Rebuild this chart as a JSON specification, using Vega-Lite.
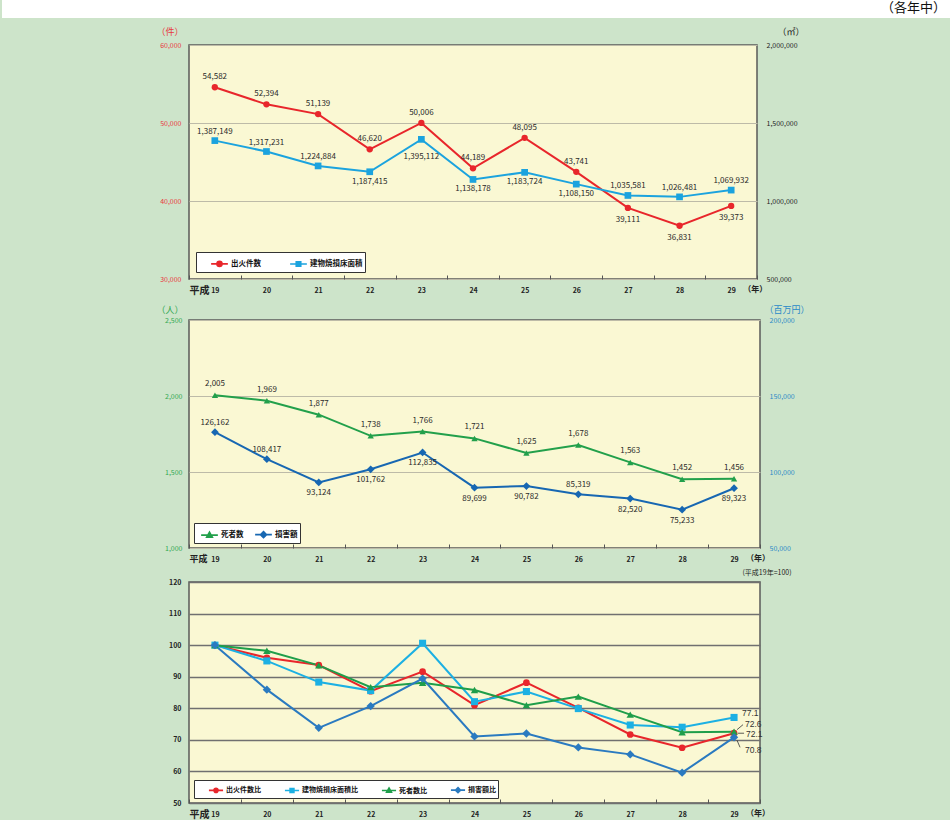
{
  "$schema": "https://vega.github.io/schema/vega-lite/v6.json",
  "padding": 0,
  "spacing": 8,
  "datasets": {
    "p1": [
      {"year": 19, "series": "出火件数", "value": 54582},
      {"year": 20, "series": "出火件数", "value": 52394},
      {"year": 21, "series": "出火件数", "value": 51139},
      {"year": 22, "series": "出火件数", "value": 46620},
      {"year": 23, "series": "出火件数", "value": 50006},
      {"year": 24, "series": "出火件数", "value": 44189},
      {"year": 25, "series": "出火件数", "value": 48095},
      {"year": 26, "series": "出火件数", "value": 43741},
      {"year": 27, "series": "出火件数", "value": 39111},
      {"year": 28, "series": "出火件数", "value": 36831},
      {"year": 29, "series": "出火件数", "value": 39373},
      {"year": 19, "series": "建物焼損床面積", "value": 1387149},
      {"year": 20, "series": "建物焼損床面積", "value": 1317231},
      {"year": 21, "series": "建物焼損床面積", "value": 1224884},
      {"year": 22, "series": "建物焼損床面積", "value": 1187415},
      {"year": 23, "series": "建物焼損床面積", "value": 1395112},
      {"year": 24, "series": "建物焼損床面積", "value": 1138178},
      {"year": 25, "series": "建物焼損床面積", "value": 1183724},
      {"year": 26, "series": "建物焼損床面積", "value": 1108150},
      {"year": 27, "series": "建物焼損床面積", "value": 1035581},
      {"year": 28, "series": "建物焼損床面積", "value": 1026481},
      {"year": 29, "series": "建物焼損床面積", "value": 1069932}
    ],
    "p2": [
      {"year": 19, "series": "死者数", "value": 2005},
      {"year": 20, "series": "死者数", "value": 1969},
      {"year": 21, "series": "死者数", "value": 1877},
      {"year": 22, "series": "死者数", "value": 1738},
      {"year": 23, "series": "死者数", "value": 1766},
      {"year": 24, "series": "死者数", "value": 1721},
      {"year": 25, "series": "死者数", "value": 1625},
      {"year": 26, "series": "死者数", "value": 1678},
      {"year": 27, "series": "死者数", "value": 1563},
      {"year": 28, "series": "死者数", "value": 1452},
      {"year": 29, "series": "死者数", "value": 1456},
      {"year": 19, "series": "損害額", "value": 126162},
      {"year": 20, "series": "損害額", "value": 108417},
      {"year": 21, "series": "損害額", "value": 93124},
      {"year": 22, "series": "損害額", "value": 101762},
      {"year": 23, "series": "損害額", "value": 112835},
      {"year": 24, "series": "損害額", "value": 89699},
      {"year": 25, "series": "損害額", "value": 90782},
      {"year": 26, "series": "損害額", "value": 85319},
      {"year": 27, "series": "損害額", "value": 82520},
      {"year": 28, "series": "損害額", "value": 75233},
      {"year": 29, "series": "損害額", "value": 89323}
    ],
    "p3": [
      {"year": 19, "series": "出火件数比", "value": 100},
      {"year": 20, "series": "出火件数比", "value": 96.0},
      {"year": 21, "series": "出火件数比", "value": 93.7},
      {"year": 22, "series": "出火件数比", "value": 85.4},
      {"year": 23, "series": "出火件数比", "value": 91.6},
      {"year": 24, "series": "出火件数比", "value": 81.0},
      {"year": 25, "series": "出火件数比", "value": 88.1},
      {"year": 26, "series": "出火件数比", "value": 80.1},
      {"year": 27, "series": "出火件数比", "value": 71.7},
      {"year": 28, "series": "出火件数比", "value": 67.5},
      {"year": 29, "series": "出火件数比", "value": 72.1},
      {"year": 19, "series": "建物焼損床面積比", "value": 100},
      {"year": 20, "series": "建物焼損床面積比", "value": 95.0},
      {"year": 21, "series": "建物焼損床面積比", "value": 88.3},
      {"year": 22, "series": "建物焼損床面積比", "value": 85.6},
      {"year": 23, "series": "建物焼損床面積比", "value": 100.6},
      {"year": 24, "series": "建物焼損床面積比", "value": 82.1},
      {"year": 25, "series": "建物焼損床面積比", "value": 85.3},
      {"year": 26, "series": "建物焼損床面積比", "value": 79.9},
      {"year": 27, "series": "建物焼損床面積比", "value": 74.7},
      {"year": 28, "series": "建物焼損床面積比", "value": 74.0},
      {"year": 29, "series": "建物焼損床面積比", "value": 77.1},
      {"year": 19, "series": "死者数比", "value": 100},
      {"year": 20, "series": "死者数比", "value": 98.2},
      {"year": 21, "series": "死者数比", "value": 93.6},
      {"year": 22, "series": "死者数比", "value": 86.7},
      {"year": 23, "series": "死者数比", "value": 88.1},
      {"year": 24, "series": "死者数比", "value": 85.8},
      {"year": 25, "series": "死者数比", "value": 81.0},
      {"year": 26, "series": "死者数比", "value": 83.7},
      {"year": 27, "series": "死者数比", "value": 78.0},
      {"year": 28, "series": "死者数比", "value": 72.4},
      {"year": 29, "series": "死者数比", "value": 72.6},
      {"year": 19, "series": "損害額比", "value": 100},
      {"year": 20, "series": "損害額比", "value": 85.9},
      {"year": 21, "series": "損害額比", "value": 73.8},
      {"year": 22, "series": "損害額比", "value": 80.7},
      {"year": 23, "series": "損害額比", "value": 89.4},
      {"year": 24, "series": "損害額比", "value": 71.1},
      {"year": 25, "series": "損害額比", "value": 72.0},
      {"year": 26, "series": "損害額比", "value": 67.6},
      {"year": 27, "series": "損害額比", "value": 65.4},
      {"year": 28, "series": "損害額比", "value": 59.6},
      {"year": 29, "series": "損害額比", "value": 70.8}
    ],
    "yearlabel": [{"year": 29, "t": "（年）"}]
  },
  "config": {
    "background": "#cde4ca",
    "view": {"fill": "#faf8d3", "stroke": "#5a5a5a", "strokeWidth": 1.5},
    "font": "Noto Sans CJK JP",
    "axis": {"labelFont": "Noto Sans CJK JP", "titleFont": "Noto Sans CJK JP"},
    "legend": {"labelFont": "Noto Sans CJK JP"},
    "text": {"font": "Noto Sans CJK JP"},
    "title": {"font": "Noto Sans CJK JP"}
  },
  "resolve": {"scale": {"stroke": "independent"}},
  "vconcat": [
    {
      "width": 762, "height": 18,
      "view": {"fill": "#ffffff", "stroke": null},
      "data": {"values": [{"t": "（各年中）"}]},
      "mark": {"type": "text", "align": "right", "baseline": "middle", "dx": -5, "dy": -1, "fontSize": 13, "color": "#111111"},
      "encoding": {
        "x": {"value": "width"},
        "y": {"datum": 9, "type": "quantitative", "scale": {"domain": [0, 18]},
          "axis": {"values": [1, 2, 3, 4, 5, 6, 7, 8, 9, 10, 11, 12, 13, 14, 15, 16, 17], "translate": 0, "tickSize": 187, "tickWidth": 2, "tickColor": "#ffffff", "tickCap": "butt", "labels": false, "domain": false, "grid": false, "title": null, "minExtent": 188, "maxExtent": 188}},
        "text": {"field": "t"}
      }
    },
    {
      "spacing": 2,
      "resolve": {"scale": {"stroke": "independent"}},
      "vconcat": [
        {
          "width": 568, "height": 234,
          "data": {"name": "p1"},
          "encoding": {
            "x": {"field": "year", "type": "ordinal", "bandPosition": 0.5,
              "scale": {"type": "band", "paddingInner": 0, "paddingOuter": 0},
              "axis": {"title": "平成", "titleX": 0, "titleY": 11, "titleAlign": "left", "titleBaseline": "middle", "titleAngle": 0, "titleFontSize": 10, "titleFontWeight": "bold", "titleColor": "#222222",
                "labelAngle": 0, "labelFontSize": 7, "labelFontWeight": "bold", "labelColor": "#222222", "labelPadding": 15, "labelBaseline": "middle",
                "tickBand": "extent", "tickSize": -4, "tickColor": "#555555", "domain": false, "grid": false, "minExtent": 22, "maxExtent": 22}}
          },
          "layer": [
            {
              "transform": [{"filter": "datum.series === '出火件数'"}],
              "encoding": {"y": {"field": "value", "type": "quantitative", "scale": {"domain": [30000, 60000], "nice": false, "zero": false},
                "axis": {"orient": "left", "values": [30000, 40000, 50000, 60000], "format": ",.0f", "labelColor": "#e8383d", "labelFontSize": 7, "labelPadding": 8, "ticks": false, "domain": false,
                  "grid": true, "gridColor": "#bdbba8", "gridWidth": 1,
                  "title": "（件）", "titleAngle": 0, "titleX": -6, "titleY": -14, "titleAlign": "right", "titleBaseline": "middle", "titleColor": "#e8383d", "titleFontSize": 9, "titleFontWeight": "normal",
                  "minExtent": 188, "maxExtent": 188}}},
              "layer": [
                {"mark": {"type": "line", "strokeWidth": 2},
                 "encoding": {"stroke": {"field": "series", "type": "nominal",
                   "scale": {"domain": ["出火件数", "建物焼損床面積"], "range": ["#e8262b", "#1ba3de"]},
                   "legend": {"orient": "bottom-left", "offset": 7, "direction": "horizontal", "title": null,
                     "fillColor": "#ffffff", "strokeColor": "#333333", "padding": 2, "symbolOffset": 12, "columnPadding": 16, "labelOffset": 2,
                     "symbolSize": 280, "symbolStrokeWidth": 1.6, "labelFontSize": 7.5, "labelFontWeight": "bold", "labelColor": "#111111",
                     "encode": {"symbols": {"update": {
                       "shape": {"signal": "datum.value === '出火件数' ? 'M-1,0H1M0.3,0A0.3,0.3,0,1,1,-0.3,0A0.3,0.3,0,1,1,0.3,0Z' : 'M-1,0H1M-0.27,-0.27H0.27V0.27H-0.27Z'"},
                       "fill": {"signal": "datum.value === '出火件数' ? '#e8262b' : '#1ba3de'"}}}}}}}},
                {"mark": {"type": "point", "shape": "circle", "filled": true, "size": 40, "color": "#e8262b", "opacity": 1}},
                {"transform": [{"filter": "datum.year < 27"}],
                 "mark": {"type": "text", "dy": -10, "fontSize": 8, "color": "#2a2a2a"},
                 "encoding": {"text": {"field": "value", "type": "quantitative", "format": ","}}},
                {"transform": [{"filter": "datum.year >= 27"}],
                 "mark": {"type": "text", "dy": 12, "fontSize": 8, "color": "#2a2a2a"},
                 "encoding": {"text": {"field": "value", "type": "quantitative", "format": ","}}}
              ]
            },
            {
              "transform": [{"filter": "datum.series === '建物焼損床面積'"}],
              "encoding": {"y": {"field": "value", "type": "quantitative", "scale": {"domain": [500000, 2000000], "nice": false, "zero": false},
                "axis": {"orient": "right", "values": [500000, 1000000, 1500000, 2000000], "format": ",.0f", "labelColor": "#222222", "labelFontSize": 7, "labelPadding": 9, "ticks": false, "domain": false, "grid": false,
                  "title": "（㎡）", "titleAngle": 0, "titleX": 20, "titleY": -14, "titleAlign": "left", "titleBaseline": "middle", "titleColor": "#222222", "titleFontSize": 9, "titleFontWeight": "normal"}}},
              "layer": [
                {"mark": {"type": "line", "strokeWidth": 2},
                 "encoding": {"stroke": {"field": "series", "type": "nominal",
                   "scale": {"domain": ["出火件数", "建物焼損床面積"], "range": ["#e8262b", "#1ba3de"]}}}},
                {"mark": {"type": "point", "shape": "square", "filled": true, "size": 45, "color": "#1ba3de", "opacity": 1}},
                {"transform": [{"filter": "datum.year <= 21 || datum.year >= 27"}],
                 "mark": {"type": "text", "dy": -9, "fontSize": 8, "color": "#2a2a2a"},
                 "encoding": {"text": {"field": "value", "type": "quantitative", "format": ","}}},
                {"transform": [{"filter": "datum.year > 21 && datum.year < 27 && datum.year != 23"}],
                 "mark": {"type": "text", "dy": 10, "fontSize": 8, "color": "#2a2a2a"},
                 "encoding": {"text": {"field": "value", "type": "quantitative", "format": ","}}},
                {"transform": [{"filter": "datum.year == 23"}],
                 "mark": {"type": "text", "dy": 18, "fontSize": 8, "color": "#2a2a2a"},
                 "encoding": {"text": {"field": "value", "type": "quantitative", "format": ","}}}
              ]
            },
            {
              "data": {"name": "yearlabel"},
              "mark": {"type": "text", "dx": 24, "dy": 11, "baseline": "middle", "fontSize": 8, "fontWeight": "bold", "color": "#222222"},
              "encoding": {"y": {"value": "height"}, "text": {"field": "t"}}
            }
          ],
          "resolve": {"scale": {"y": "independent"}}
        },
        {
          "width": 571, "height": 228,
          "data": {"name": "p2"},
          "encoding": {
            "x": {"field": "year", "type": "ordinal", "bandPosition": 0.5,
              "scale": {"type": "band", "paddingInner": 0, "paddingOuter": 0},
              "axis": {"title": "平成", "titleX": 0, "titleY": 10.5, "titleAlign": "left", "titleBaseline": "middle", "titleAngle": 0, "titleFontSize": 9, "titleFontWeight": "bold", "titleColor": "#222222",
                "labelAngle": 0, "labelFontSize": 7, "labelFontWeight": "bold", "labelColor": "#222222", "labelPadding": 15, "labelBaseline": "middle",
                "tickBand": "extent", "tickSize": -4, "tickColor": "#555555", "domain": false, "grid": false, "minExtent": 14, "maxExtent": 14}}
          },
          "layer": [
            {
              "transform": [{"filter": "datum.series === '死者数'"}],
              "encoding": {"y": {"field": "value", "type": "quantitative", "scale": {"domain": [1000, 2500], "nice": false, "zero": false},
                "axis": {"orient": "left", "values": [1000, 1500, 2000, 2500], "format": ",.0f", "labelColor": "#30a852", "labelFontSize": 7, "labelPadding": 7, "ticks": false, "domain": false,
                  "grid": true, "gridColor": "#bdbba8", "gridWidth": 1,
                  "title": "（人）", "titleAngle": 0, "titleX": -6, "titleY": -11, "titleAlign": "right", "titleBaseline": "middle", "titleColor": "#30a852", "titleFontSize": 9, "titleFontWeight": "normal",
                  "minExtent": 188, "maxExtent": 188}}},
              "layer": [
                {"mark": {"type": "line", "strokeWidth": 2},
                 "encoding": {"stroke": {"field": "series", "type": "nominal",
                   "scale": {"domain": ["死者数", "損害額"], "range": ["#22a04b", "#1767b2"]},
                   "legend": {"orient": "bottom-left", "offset": 5, "direction": "horizontal", "title": null,
                     "fillColor": "#ffffff", "strokeColor": "#333333", "padding": 2, "symbolOffset": 4, "columnPadding": 6, "labelOffset": 2,
                     "symbolSize": 280, "symbolStrokeWidth": 1.6, "labelFontSize": 7.5, "labelFontWeight": "bold", "labelColor": "#111111",
                     "encode": {"symbols": {"update": {
                       "shape": {"signal": "datum.value === '死者数' ? 'M-1,0H1M0,-0.36L0.34,0.24L-0.34,0.24Z' : 'M-1,0H1M0,-0.36L0.36,0L0,0.36L-0.36,0Z'"},
                       "fill": {"signal": "datum.value === '死者数' ? '#22a04b' : '#1767b2'"}}}}}}}},
                {"mark": {"type": "point", "shape": "triangle-up", "filled": true, "size": 40, "color": "#22a04b", "opacity": 1}},
                {"mark": {"type": "text", "dy": -11, "fontSize": 8, "color": "#2a2a2a"},
                 "encoding": {"text": {"field": "value", "type": "quantitative", "format": ","}}}
              ]
            },
            {
              "transform": [{"filter": "datum.series === '損害額'"}],
              "encoding": {"y": {"field": "value", "type": "quantitative", "scale": {"domain": [50000, 200000], "nice": false, "zero": false},
                "axis": {"orient": "right", "values": [50000, 100000, 150000, 200000], "format": ",.0f", "labelColor": "#2a8ac8", "labelFontSize": 7, "labelPadding": 9, "ticks": false, "domain": false, "grid": false,
                  "title": "（百万円）", "titleAngle": 0, "titleX": 4, "titleY": -11, "titleAlign": "left", "titleBaseline": "middle", "titleColor": "#2a8ac8", "titleFontSize": 9, "titleFontWeight": "normal"}}},
              "layer": [
                {"mark": {"type": "line", "strokeWidth": 2},
                 "encoding": {"stroke": {"field": "series", "type": "nominal",
                   "scale": {"domain": ["死者数", "損害額"], "range": ["#22a04b", "#1767b2"]}}}},
                {"mark": {"type": "point", "shape": "diamond", "filled": true, "size": 60, "color": "#1767b2", "opacity": 1}},
                {"transform": [{"filter": "datum.year <= 20 || datum.year == 26"}],
                 "mark": {"type": "text", "dy": -9, "fontSize": 8, "color": "#2a2a2a"},
                 "encoding": {"text": {"field": "value", "type": "quantitative", "format": ","}}},
                {"transform": [{"filter": "datum.year > 20 && datum.year != 26"}],
                 "mark": {"type": "text", "dy": 11, "fontSize": 8, "color": "#2a2a2a"},
                 "encoding": {"text": {"field": "value", "type": "quantitative", "format": ","}}}
              ]
            },
            {
              "data": {"name": "yearlabel"},
              "mark": {"type": "text", "dx": 24, "dy": 11, "baseline": "middle", "fontSize": 8, "fontWeight": "bold", "color": "#222222"},
              "encoding": {"y": {"value": "height"}, "text": {"field": "t"}}
            }
          ],
          "resolve": {"scale": {"y": "independent"}}
        },
        {
          "width": 571, "height": 221,
          "data": {"name": "p3"},
          "encoding": {
            "x": {"field": "year", "type": "ordinal", "bandPosition": 0.5,
              "scale": {"type": "band", "paddingInner": 0, "paddingOuter": 0},
              "axis": {"title": "平成", "titleX": 0, "titleY": 11, "titleAlign": "left", "titleBaseline": "middle", "titleAngle": 0, "titleFontSize": 10, "titleFontWeight": "bold", "titleColor": "#222222",
                "labelAngle": 0, "labelFontSize": 7, "labelFontWeight": "bold", "labelColor": "#222222", "labelPadding": 15, "labelBaseline": "middle",
                "tickBand": "extent", "tickSize": -4, "tickColor": "#555555", "domain": false, "grid": false}},
            "y": {"field": "value", "type": "quantitative", "scale": {"domain": [50, 120], "nice": false, "zero": false},
              "axis": {"values": [50, 60, 70, 80, 90, 100, 110, 120], "labelColor": "#222222", "labelFontSize": 7, "labelFontWeight": "bold", "labelPadding": 8, "ticks": false, "domain": false,
                "grid": true, "gridColor": "#707070", "gridWidth": 1.5,
                "title": "(平成19年=100)", "titleAngle": 0, "titleX": 553, "titleY": -10, "titleAlign": "left", "titleBaseline": "middle", "titleColor": "#222222", "titleFontSize": 7, "titleFontWeight": "normal",
                "minExtent": 188, "maxExtent": 188}}
          },
          "layer": [
            {"mark": {"type": "line", "strokeWidth": 2},
             "encoding": {"stroke": {"field": "series", "type": "nominal",
               "scale": {"domain": ["出火件数比", "建物焼損床面積比", "死者数比", "損害額比"], "range": ["#e8262b", "#1cb0e3", "#1f9e4a", "#2a7ac0"]},
               "legend": {"orient": "bottom-left", "offset": 5, "direction": "horizontal", "title": null,
                 "fillColor": "#ffffff", "strokeColor": "#333333", "padding": 2, "symbolOffset": 12, "columnPadding": 11, "labelOffset": 2,
                 "symbolSize": 200, "symbolStrokeWidth": 1.6, "labelFontSize": 7, "labelFontWeight": "bold", "labelColor": "#111111",
                 "encode": {"symbols": {"update": {
                   "shape": {"signal": "datum.value === '出火件数比' ? 'M-1,0H1M0.3,0A0.3,0.3,0,1,1,-0.3,0A0.3,0.3,0,1,1,0.3,0Z' : datum.value === '建物焼損床面積比' ? 'M-1,0H1M-0.27,-0.27H0.27V0.27H-0.27Z' : datum.value === '死者数比' ? 'M-1,0H1M0,-0.36L0.34,0.24L-0.34,0.24Z' : 'M-1,0H1M0,-0.36L0.36,0L0,0.36L-0.36,0Z'"},
                   "fill": {"signal": "datum.value === '出火件数比' ? '#e8262b' : datum.value === '建物焼損床面積比' ? '#1cb0e3' : datum.value === '死者数比' ? '#1f9e4a' : '#2a7ac0'"}}}}}}}},
            {"transform": [{"filter": "datum.series === '出火件数比'"}],
             "mark": {"type": "point", "shape": "circle", "filled": true, "size": 45, "color": "#e8262b", "opacity": 1}},
            {"transform": [{"filter": "datum.series === '建物焼損床面積比'"}],
             "mark": {"type": "point", "shape": "square", "filled": true, "size": 50, "color": "#1cb0e3", "opacity": 1}},
            {"transform": [{"filter": "datum.series === '死者数比'"}],
             "mark": {"type": "point", "shape": "triangle-up", "filled": true, "size": 55, "color": "#1f9e4a", "opacity": 1}},
            {"transform": [{"filter": "datum.series === '損害額比'"}],
             "mark": {"type": "point", "shape": "diamond", "filled": true, "size": 70, "color": "#2a7ac0", "opacity": 1}},
            {"transform": [{"filter": "datum.year == 29 && datum.series === '死者数比'"}],
             "mark": {"type": "rule", "color": "#333333", "strokeWidth": 0.8, "xOffset": 3, "yOffset": -2, "x2Offset": 9, "y2Offset": -7},
             "encoding": {"x2": {"field": "year"}, "y2": {"field": "value"}}},
            {"transform": [{"filter": "datum.year == 29 && datum.series === '出火件数比'"}],
             "mark": {"type": "rule", "color": "#333333", "strokeWidth": 0.8, "xOffset": 4, "x2Offset": 10},
             "encoding": {"x2": {"field": "year"}, "y2": {"field": "value"}}},
            {"transform": [{"filter": "datum.year == 29 && datum.series === '損害額比'"}],
             "mark": {"type": "rule", "color": "#333333", "strokeWidth": 0.8, "xOffset": 3, "yOffset": 3, "x2Offset": 6, "y2Offset": 10},
             "encoding": {"x2": {"field": "year"}, "y2": {"field": "value"}}},
            {"transform": [{"filter": "datum.year == 29 && datum.series === '建物焼損床面積比'"}],
             "mark": {"type": "text", "align": "left", "dx": 8, "dy": -4, "fontSize": 8.5, "font": "Liberation Sans", "color": "#333333"},
             "encoding": {"text": {"field": "value", "type": "quantitative", "format": ".1f"}}},
            {"transform": [{"filter": "datum.year == 29 && datum.series === '死者数比'"}],
             "mark": {"type": "text", "align": "left", "dx": 11, "dy": -8, "fontSize": 8.5, "font": "Liberation Sans", "color": "#333333"},
             "encoding": {"text": {"field": "value", "type": "quantitative", "format": ".1f"}}},
            {"transform": [{"filter": "datum.year == 29 && datum.series === '出火件数比'"}],
             "mark": {"type": "text", "align": "left", "dx": 12, "dy": 1, "fontSize": 8.5, "font": "Liberation Sans", "color": "#333333"},
             "encoding": {"text": {"field": "value", "type": "quantitative", "format": ".1f"}}},
            {"transform": [{"filter": "datum.year == 29 && datum.series === '損害額比'"}],
             "mark": {"type": "text", "align": "left", "dx": 11, "dy": 13, "fontSize": 8.5, "font": "Liberation Sans", "color": "#333333"},
             "encoding": {"text": {"field": "value", "type": "quantitative", "format": ".1f"}}},
            {
              "data": {"name": "yearlabel"},
              "mark": {"type": "text", "dx": 24, "dy": 11, "baseline": "middle", "fontSize": 8, "fontWeight": "bold", "color": "#222222"},
              "encoding": {"y": {"value": "height"}, "text": {"field": "t"}}
            }
          ]
        }
      ]
    }
  ]
}
